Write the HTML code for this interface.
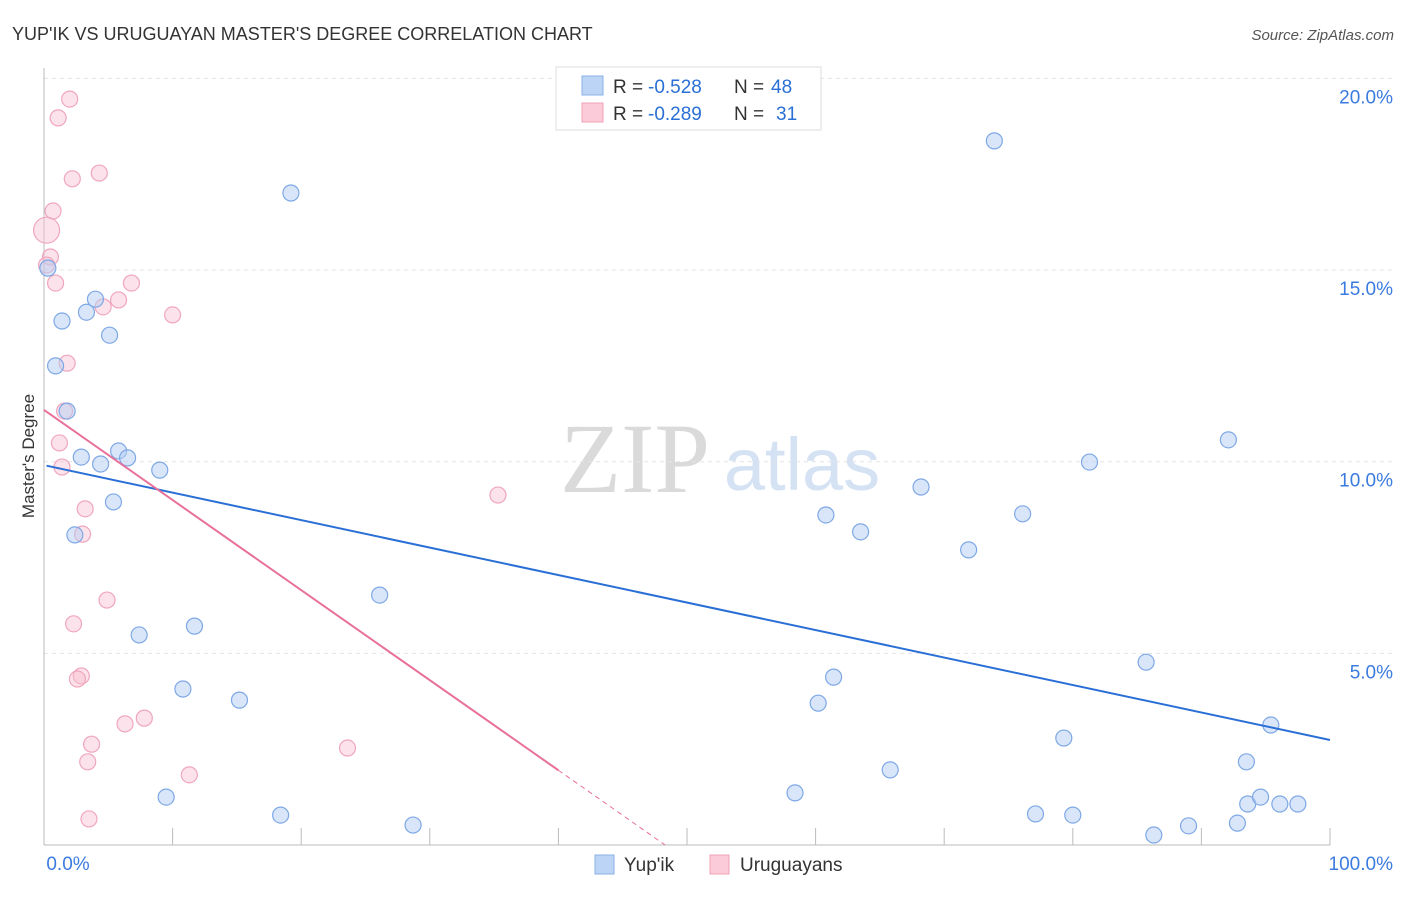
<!DOCTYPE html>
<html><head><meta charset="utf-8"><style>
body{margin:0;background:#fff;font-family:"Liberation Sans",sans-serif}
</style></head><body>
<svg id="c" width="1406" height="892" font-family="Liberation Sans, sans-serif">
<text x="12" y="40" font-size="18" fill="#333">YUP'IK VS URUGUAYAN MASTER'S DEGREE CORRELATION CHART</text>
<text x="1394" y="40" font-size="15" fill="#555" text-anchor="end" font-style="italic">Source: ZipAtlas.com</text>
<text x="635" y="492" font-size="100" fill="#dadada" text-anchor="middle" style="font-family:'Liberation Serif',serif">ZIP</text>
<text x="802" y="490" font-size="74" fill="#d4e2f4" text-anchor="middle">atlas</text>
<text x="34" y="456" font-size="17" fill="#333" text-anchor="middle" transform="rotate(-90 34 456)">Master's Degree</text>
<g id="grid"></g><g id="marks"></g>
<g>
<rect x="556" y="67" width="265" height="63" fill="#fff" stroke="#ddd"/>
<rect x="582" y="76" width="21" height="19" fill="#bcd4f5" stroke="#8ab0e8"/>
<rect x="582" y="103" width="21" height="19" fill="#fbcbd9" stroke="#f0a0b8"/>
<g font-size="19" fill="#333">
<text x="613" y="93">R =</text><text x="648" y="93" fill="#2a6fd6">-0.528</text><text x="734" y="93">N =</text><text x="771" y="93" fill="#2a6fd6">48</text></g>
<g font-size="19" fill="#333">
<text x="613" y="120">R =</text><text x="648" y="120" fill="#2a6fd6">-0.289</text><text x="734" y="120">N =</text><text x="776" y="120" fill="#2a6fd6">31</text></g>
</g>
<g>
<rect x="595" y="855" width="19" height="19" fill="#bcd4f5" stroke="#8ab0e8"/>
<text x="624" y="871" font-size="19" fill="#333">Yup'ik</text>
<rect x="710" y="855" width="19" height="19" fill="#fbcbd9" stroke="#f0a0b8"/>
<text x="740" y="871" font-size="19" fill="#333">Uruguayans</text>
</g>
</svg>
<script>
const yTicks=[5,10,15,20];
const yTickLabels=["5.0%","10.0%","15.0%","20.0%"];
const xEndLabels=["0.0%","100.0%"];
const blueX=[0.3,0.9,1.4,1.8,2.9,2.4,3.3,4.0,4.4,5.1,5.4,5.8,6.5,7.4,9.0,9.5,10.8,11.7,15.2,18.4,19.2,26.1,28.7,58.4,60.2,60.8,61.4,63.5,65.8,68.2,71.9,73.9,76.1,77.1,79.3,80.0,81.3,85.7,86.3,89.0,92.1,92.8,93.5,93.6,94.6,95.4,96.1,97.5];
const blueY=[15.05,12.5,13.67,11.32,10.12,8.09,13.9,14.24,9.94,13.3,8.95,10.28,10.1,5.48,9.78,1.25,4.07,5.71,3.78,0.78,17.01,6.52,0.52,1.36,3.7,8.61,4.38,8.17,1.96,9.34,7.7,18.37,8.64,0.81,2.79,0.78,9.99,4.77,0.26,0.5,10.57,0.57,2.17,1.07,1.25,3.13,1.07,1.07];
const pinkX=[2.0,1.1,4.3,2.2,0.7,0.2,0.5,0.9,6.8,5.8,4.6,10.0,1.8,1.6,1.2,1.4,3.2,3.0,35.3,4.9,2.3,2.9,2.6,7.8,6.3,3.7,23.6,3.4,11.3,3.5,0.2];
const pinkY=[19.46,18.97,17.53,17.38,16.54,16.04,15.34,14.66,14.66,14.22,14.04,13.83,12.57,11.32,10.49,9.86,8.77,8.11,9.13,6.39,5.77,4.41,4.33,3.31,3.16,2.63,2.53,2.17,1.83,0.68,15.13];
const blueTrend=[9.91,2.74];
const pinkTrend=[11.35,-0.235];
const NS="http://www.w3.org/2000/svg";
const X0=44,X1=1330,Y0=845,PPY=38.33;
const sx=v=>X0+(X1-X0)*v/100, sy=v=>Y0-v*PPY;
function mk(tag,attrs,parent){const e=document.createElementNS(NS,tag);for(const k in attrs)e.setAttribute(k,attrs[k]);parent.appendChild(e);return e;}
const grid=document.getElementById('grid'),marks=document.getElementById('marks');
yTicks.forEach((t,i)=>{
 const l=mk('line',{x1:X0,x2:1394,y1:sy(t),y2:sy(t),stroke:'#e4e4e4','stroke-dasharray':'4,4'},grid);
 
 
 const tx=mk('text',{x:1393,y:sy(t)+25,'font-size':19,fill:'#3b7be0','text-anchor':'end'},grid);
 tx.textContent=yTickLabels[i];
 
 
});
const ya=mk('line',{x1:X0,x2:X0,y1:68,y2:Y0,stroke:'#bbb'},grid);


const xa=mk('line',{x1:X0,x2:X1,y1:Y0,y2:Y0,stroke:'#bbb'},grid);


for(let i=1;i<=10;i++){const t=mk('line',{x1:sx(i*10),x2:sx(i*10),y1:828,y2:Y0,stroke:'#bbb'},grid);
 
 }
[[X0+24,xEndLabels[0],'middle'],[1393,xEndLabels[1],'end']].forEach(a=>{
 const t=mk('text',{x:a[0],y:870,'font-size':19,fill:'#3b7be0','text-anchor':a[2]},grid);t.textContent=a[1];
 
 });
pinkX.forEach((v,i)=>{const c=mk('circle',{cx:sx(v),cy:sy(pinkY[i]),r:i==5?13:8,fill:'rgba(248,190,208,0.45)',stroke:'#f0a6bd','stroke-width':1.2},marks);
 
 });
blueX.forEach((v,i)=>{const c=mk('circle',{cx:sx(v),cy:sy(blueY[i]),r:8,fill:'rgba(180,205,243,0.5)',stroke:'#7ea8e6','stroke-width':1.2},marks);
 
 });
const bl=mk('line',{x1:sx(0.2),y1:sy(blueTrend[0]+(blueTrend[1]-blueTrend[0])*0.002),x2:sx(100),y2:sy(blueTrend[1]),stroke:'#2a6fd6','stroke-width':2},marks);


const pe=40, pz=-pinkTrend[0]/pinkTrend[1];
const pl=mk('line',{x1:sx(0),y1:sy(pinkTrend[0]),x2:sx(pe),y2:sy(pinkTrend[0]+pinkTrend[1]*pe),stroke:'#e8709a','stroke-width':2},marks);


const pd=mk('line',{x1:sx(pe),y1:sy(pinkTrend[0]+pinkTrend[1]*pe),x2:sx(pz),y2:sy(0),stroke:'#e8709a','stroke-width':1,'stroke-dasharray':'5,4'},marks);


</script>
</body></html>
